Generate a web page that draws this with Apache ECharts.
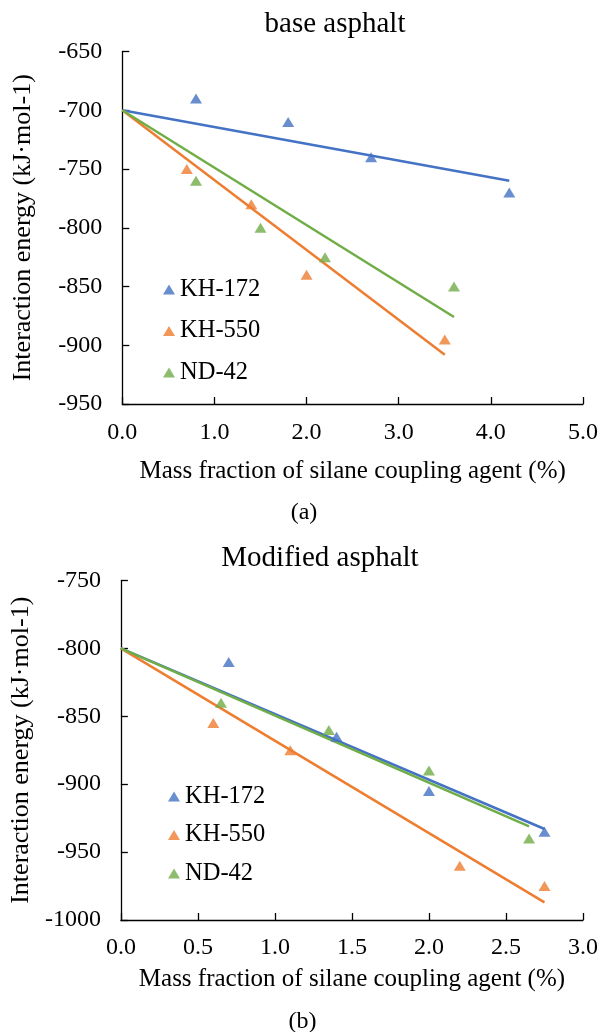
<!DOCTYPE html>
<html>
<head>
<meta charset="utf-8">
<script src="https://cdn.jsdelivr.net/npm/echarts@6/dist/echarts.min.js"></script>
<style>
html,body{margin:0;padding:0;background:#fff;}
#c{width:601px;height:1032px;}
</style>
</head>
<body>
<div id="c"></div>
<script>
// ---- Data ----
const seriesNames = ['KH-172', 'KH-550', 'ND-42'];

// (a) base asphalt
const aKH172 = [[0.8, -690], [1.8, -710], [2.7, -740], [4.2, -770]];
const aKH550 = [[0.7, -750], [1.4, -780], [2.0, -840], [3.5, -895]];
const aND42  = [[0.8, -760], [1.5, -800], [2.2, -825], [3.6, -850]];
const aFitKH172 = [[0, -700], [4.2, -760]];
const aFitKH550 = [[0, -700], [3.5, -908]];
const aFitND42  = [[0, -700], [3.6, -876]];

// (b) modified asphalt
const bKH172 = [[0.7, -810], [1.4, -865], [2.0, -905], [2.75, -935]];
const bKH550 = [[0.6, -855], [1.1, -875], [2.2, -960], [2.75, -975]];
const bND42  = [[0.65, -840], [1.35, -860], [2.0, -890], [2.65, -940]];
const bFitKH172 = [[0, -800], [2.75, -933]];
const bFitKH550 = [[0, -800], [2.75, -987]];
const bFitND42  = [[0, -800], [2.65, -931]];

const titles = ['base asphalt', 'Modified asphalt'];
const panelLabels = ['(a)', '(b)'];
const xName = 'Mass fraction of silane coupling agent (%)';
const yName = 'Interaction energy (kJ·mol-1)';

// ---- Styling ----
const FONT = 'Liberation Serif';
const colors = ['#4472C4', '#ED7D31', '#70AD47'];
const TXT = '#000';

function xAxisCfg(gi, max, interval, gap, margin) {
  return {
    type: 'value', gridIndex: gi, min: 0, max: max, interval: interval,
    name: xName, nameLocation: 'middle', nameGap: gap,
    nameTextStyle: {fontFamily: FONT, fontSize: 25, color: TXT},
    axisLine: {show: true, lineStyle: {color: '#000', width: 1.3}},
    axisTick: {show: true, inside: true, length: 7, lineStyle: {color: '#000', width: 1.3}},
    axisLabel: {fontFamily: FONT, fontSize: 24, color: TXT, margin: margin,
      formatter: v => v.toFixed(1)},
    splitLine: {show: false}
  };
}
function yAxisCfg(gi, min, max, gap) {
  return {
    type: 'value', gridIndex: gi, min: min, max: max, interval: 50,
    name: yName, nameLocation: 'middle', nameGap: gap, nameRotate: 90,
    nameTextStyle: {fontFamily: FONT, fontSize: 26, color: TXT},
    axisLine: {show: true, lineStyle: {color: '#000', width: 1.3}},
    axisTick: {show: true, inside: true, length: 7, lineStyle: {color: '#000', width: 1.3}},
    axisLabel: {fontFamily: FONT, fontSize: 24, color: TXT, margin: 20,
      formatter: v => String(v)},
    splitLine: {show: false}
  };
}
function scatter(name, data, ci, gi) {
  return {type: 'scatter', name: name, data: data, xAxisIndex: gi, yAxisIndex: gi,
    symbol: 'triangle', symbolSize: [12, 10], itemStyle: {color: colors[ci]},
    silent: true};
}
function fit(name, data, ci, gi) {
  return {type: 'line', name: name + ' fit', data: data, xAxisIndex: gi, yAxisIndex: gi,
    symbol: 'none', lineStyle: {color: colors[ci], width: 2.5}, silent: true, z: 1};
}
function legendCfg(left, top, gap) {
  return {
    data: seriesNames.map(n => ({name: n, icon: 'triangle'})),
    orient: 'vertical', left: left, top: top, itemGap: gap,
    itemWidth: 12, itemHeight: 10, selectedMode: false,
    textStyle: {fontFamily: FONT, fontSize: 24.5, color: TXT, lineHeight: 24}
  };
}
function textEl(str, x, y, size) {
  return {type: 'text', x: x, y: y, style: {text: str, fontFamily: FONT, fontSize: size,
    fill: TXT, textAlign: 'center', textVerticalAlign: 'middle'}};
}

const chart = echarts.init(document.getElementById('c'), null, {renderer: 'canvas'});
chart.setOption({
  animation: false,
  backgroundColor: '#fff',
  grid: [
    {left: 122.3, top: 51.5, width: 464.4, height: 352.5},
    {left: 118.5, top: 580.5, width: 468.2, height: 339.5}
  ],
  xAxis: [xAxisCfg(0, 5, 1, 55, 17), xAxisCfg(1, 3, 0.5, 47, 16)],
  yAxis: [yAxisCfg(0, -950, -650, 86), yAxisCfg(1, -1000, -750, 82)],
  legend: [legendCfg(158, 272, 16.5), legendCfg(163, 779, 13.5)],
  graphic: [
    textEl(titles[0], 335, 24, 29),
    textEl(panelLabels[0], 304, 513, 24),
    textEl(titles[1], 320, 558, 29),
    textEl(panelLabels[1], 302.5, 1022, 24)
  ],
  series: [
    fit('KH-172', aFitKH172, 0, 0), fit('KH-550', aFitKH550, 1, 0), fit('ND-42', aFitND42, 2, 0),
    scatter('KH-172', aKH172, 0, 0), scatter('KH-550', aKH550, 1, 0), scatter('ND-42', aND42, 2, 0),
    fit('KH-172', bFitKH172, 0, 1), fit('KH-550', bFitKH550, 1, 1), fit('ND-42', bFitND42, 2, 1),
    scatter('KH-172', bKH172, 0, 1), scatter('KH-550', bKH550, 1, 1), scatter('ND-42', bND42, 2, 1)
  ]
});
</script>
</body>
</html>
